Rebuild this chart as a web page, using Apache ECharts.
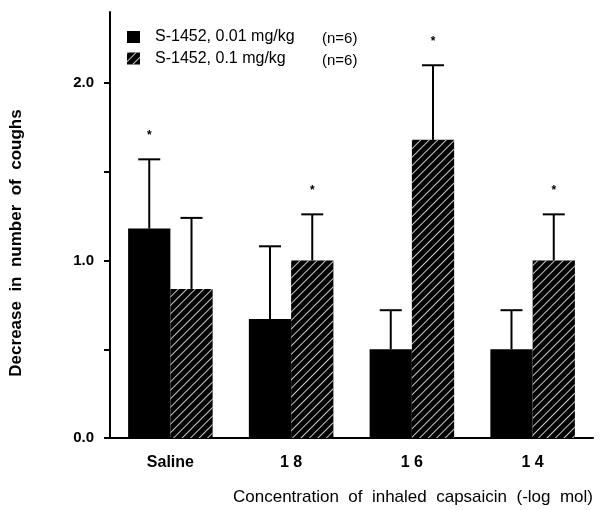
<!DOCTYPE html>
<html>
<head>
<meta charset="utf-8">
<script src="https://cdn.jsdelivr.net/npm/echarts@6/dist/echarts.min.js"></script>
<style>html,body{margin:0;padding:0;background:#fff}#c{width:602px;height:510px}</style>
</head>
<body>
<div id="c"></div>
<script>
var categories = ['Saline', '1 8', '1 6', '1 4'];
var seriesNames = ['S-1452, 0.01 mg/kg', 'S-1452, 0.1 mg/kg'];
var nLabels = ['(n=6)', '(n=6)'];
var lowDose = [1.18, 0.67, 0.50, 0.50];
var lowDoseErrTop = [1.57, 1.08, 0.72, 0.72];
var lowDoseStar = [1, 0, 0, 0];
var highDose = [0.84, 1.00, 1.68, 1.00];
var highDoseErrTop = [1.24, 1.26, 2.10, 1.26];
var highDoseStar = [0, 1, 1, 1];
var yTicks = [0, 0.5, 1.0, 1.5, 2.0];
var yLabels = [0, 1.0, 2.0];

var FONT = 'Liberation Sans, Arial, Helvetica, sans-serif';
var BAR_FRAC = 0.35;

function errSeries(vals, tops, stars, sign) {
  return {
    type: 'custom',
    z: 5,
    silent: true,
    renderItem: function (params, api) {
      var i = api.value(0), v = api.value(1), e = api.value(2), s = api.value(3);
      var band = api.size([1, 0])[0];
      var bw = band * BAR_FRAC;
      var cx = api.coord([i, 0])[0] + sign * bw / 2;
      var y0 = api.coord([i, v])[1];
      var y1 = api.coord([i, e])[1];
      var st = { stroke: '#000', lineWidth: 2 };
      var ch = [
        { type: 'line', shape: { x1: cx, y1: y0, x2: cx, y2: y1 }, style: st },
        { type: 'line', shape: { x1: cx - 11, y1: y1, x2: cx + 11, y2: y1 }, style: st }
      ];
      if (s) {
        ch.push({ type: 'text', style: { text: '*', x: cx, y: y1 - 24, align: 'center', verticalAlign: 'middle', font: 'bold 12px ' + FONT, fill: '#000' } });
      }
      return { type: 'group', children: ch };
    },
    data: vals.map(function (v, i) { return [i, v, tops[i], stars[i]]; })
  };
}

var chart = echarts.init(document.getElementById('c'), null, { renderer: 'canvas' });
chart.setOption({
  animation: false,
  backgroundColor: '#fff',
  grid: { left: 108, right: 9, top: 12, bottom: 72, containLabel: false },
  legend: {
    orient: 'vertical',
    left: 127,
    top: 29,
    padding: 0,
    icon: 'rect',
    itemWidth: 13,
    itemHeight: 12,
    itemGap: 4,
    selectedMode: false,
    data: seriesNames,
    formatter: function (name) {
      var idx = seriesNames.indexOf(name);
      return '{a|' + name + '}{b|' + nLabels[idx] + '}';
    },
    textStyle: {
      rich: {
        a: { width: 167, fontSize: 16, fontFamily: FONT, color: '#000', padding: [0, 0, 0, 10] },
        b: { fontSize: 15, fontFamily: FONT, color: '#000', padding: [4, 0, 0, 0] }
      }
    }
  },
  xAxis: {
    type: 'category',
    data: categories,
    boundaryGap: true,
    axisLine: { lineStyle: { color: '#000', width: 2 } },
    axisTick: { alignWithLabel: true, length: 5, lineStyle: { color: '#000', width: 2 } },
    axisLabel: { margin: 17, fontSize: 16, fontWeight: 'bold', fontFamily: FONT, color: '#000' },
    name: 'Concentration  of  inhaled  capsaicin  (-log  mol)',
    nameLocation: 'end',
    nameGap: 0,
    nameTextStyle: { align: 'right', verticalAlign: 'top', padding: [51, 0, 0, 0], fontSize: 17, fontFamily: FONT, color: '#000' }
  },
  yAxis: {
    type: 'value',
    min: 0,
    max: 2.4,
    interval: 0.5,
    splitLine: { show: false },
    axisLine: { show: true, lineStyle: { color: '#000', width: 2 } },
    axisTick: { show: true, length: 6, customValues: yTicks, lineStyle: { color: '#000', width: 2 } },
    axisLabel: {
      margin: 16, fontSize: 15, fontWeight: 'bold', fontFamily: FONT, color: '#000',
      customValues: yLabels,
      formatter: function (v) { return v.toFixed(1); }
    },
    name: 'Decrease  in  number  of  coughs',
    nameLocation: 'middle',
    nameGap: 85,
    nameRotate: 90,
    nameTextStyle: { fontSize: 17, fontWeight: 'bold', fontFamily: FONT, color: '#000', padding: [0, 36, 0, 0] }
  },
  series: [
    {
      name: seriesNames[0],
      type: 'bar',
      data: lowDose,
      barWidth: (BAR_FRAC * 100) + '%',
      barGap: '0%',
      itemStyle: { color: '#000' }
    },
    {
      name: seriesNames[1],
      type: 'bar',
      data: highDose,
      barWidth: (BAR_FRAC * 100) + '%',
      barGap: '0%',
      itemStyle: {
        color: '#000',
        decal: {
          symbol: 'rect',
          symbolSize: 1,
          dashArrayX: [1, 0],
          dashArrayY: [1, 4.2],
          rotation: -Math.PI / 4,
          color: '#c8c8c8'
        }
      }
    },
    errSeries(lowDose, lowDoseErrTop, lowDoseStar, -1),
    errSeries(highDose, highDoseErrTop, highDoseStar, 1)
  ]
});
</script>
</body>
</html>
